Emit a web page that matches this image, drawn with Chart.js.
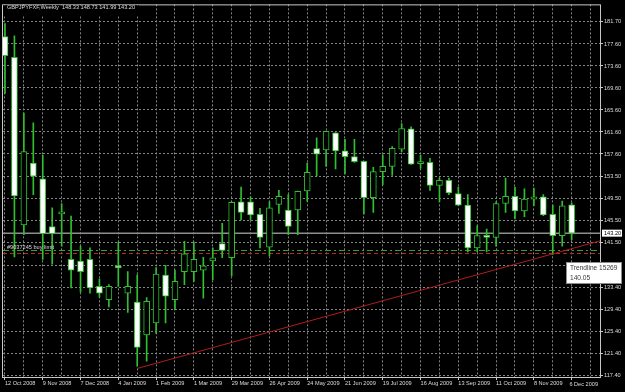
<!DOCTYPE html>
<html>
<head>
<meta charset="utf-8">
<title>GBPJPYFXF, Weekly</title>
<script src="https://cdn.jsdelivr.net/npm/chart.js@4/dist/chart.umd.min.js"></script>
<style>
  html, body { margin: 0; padding: 0; background: #000; overflow: hidden; }
</style>
</head>
<body>
<canvas id="chart" width="625" height="392"></canvas>
<script>
// Weekly GBPJPY candles, 12 Oct 2008 .. 6 Dec 2009 (one entry per week)
const headerText = 'GBPJPYFXF,Weekly  148.33 148.73 141.99 143.20';
const dateLabels = ['12 Oct 2008', '9 Nov 2008', '7 Dec 2008', '4 Jan 2009', '1 Feb 2009', '1 Mar 2009',
  '29 Mar 2009', '26 Apr 2009', '24 May 2009', '21 Jun 2009', '19 Jul 2009', '16 Aug 2009',
  '13 Sep 2009', '11 Oct 2009', '8 Nov 2009', '6 Dec 2009'];

const opens = [178.96, 175.19, 144.72, 155.94, 153.07, 144.41, 146.70, 138.44, 138.14, 138.44,
  133.53, 131.10, 137.00, 132.28, 130.67, 124.69, 126.90, 135.57, 131.10, 136.22,
  136.22, 136.47, 138.14, 141.31, 138.73, 148.89, 148.89, 146.62, 140.65, 148.41,
  147.41, 147.41, 150.87, 158.58, 158.34, 161.44, 158.16, 157.14, 156.25, 149.67,
  154.40, 155.35, 158.45, 162.16, 155.85, 156.07, 151.89, 152.79, 150.39, 148.30,
  140.52, 142.74, 142.44, 148.59, 149.91, 147.23, 149.38, 149.79, 146.62, 142.74, 148.33];
const highs = [181.30, 179.07, 165.03, 163.24, 157.38, 147.82, 148.59, 146.32, 140.83, 140.52,
  134.86, 133.84, 141.60, 136.22, 135.63, 131.51, 136.94, 137.37, 136.47, 141.72,
  141.60, 138.80, 140.52, 145.01, 148.89, 151.58, 149.79, 147.70, 148.89, 150.99,
  150.21, 150.87, 155.94, 160.55, 161.75, 161.50, 160.24, 160.24, 156.30, 155.17,
  157.45, 158.93, 163.11, 162.52, 157.38, 156.79, 153.20, 153.20, 151.58, 150.21,
  144.59, 143.93, 148.89, 153.20, 151.58, 151.28, 151.40, 150.21, 148.30, 149.02, 148.73];
const lows = [168.61, 138.86, 142.93, 150.20, 138.44, 137.55, 140.83, 133.25, 132.46, 132.28,
  131.56, 129.77, 133.53, 128.77, 119.01, 119.92, 124.99, 126.90, 129.30, 133.84,
  134.43, 131.40, 134.68, 138.73, 135.45, 145.61, 145.61, 140.52, 139.04, 146.80,
  142.93, 142.93, 149.02, 153.56, 155.35, 154.87, 153.97, 156.07, 146.69, 146.98,
  152.00, 153.68, 158.04, 155.70, 154.99, 150.99, 148.89, 150.21, 148.18, 139.81,
  139.81, 139.81, 140.83, 146.98, 145.79, 146.21, 148.18, 146.38, 139.34, 140.83, 141.99];
const closes = [175.48, 149.97, 158.04, 153.56, 143.10, 143.10, 146.80, 136.47, 136.22, 133.25,
  132.28, 133.53, 136.90, 133.53, 122.42, 130.79, 135.75, 131.74, 134.43, 139.45,
  138.44, 137.24, 138.73, 140.06, 148.80, 146.98, 146.50, 142.44, 147.82, 149.91,
  144.41, 150.80, 154.27, 157.55, 161.70, 158.16, 157.09, 156.19, 149.67, 154.40,
  155.35, 158.63, 162.21, 155.76, 156.00, 151.89, 152.79, 150.51, 148.30, 140.52,
  142.74, 142.44, 148.59, 149.91, 147.23, 149.38, 149.79, 146.50, 142.74, 148.18, 143.20];

const priceLabels = ['181.70', '177.60', '173.60', '169.60', '165.60', '161.60', '157.60', '153.50',
  '149.50', '145.50', '141.50', '137.40', '133.40', '129.40', '125.40', '121.40', '117.40'];

const bidPrice = 143.20;
const orderPrice = 140.05;
const stopPrice = 139.50;
const orderText = '#9037245 buy limit';
const trendX = [14, 63];
const trendY = [118.6, 141.8];
const trendTip = ['Trendline 15269', '140.05'];

const X_MIN = -0.21;
const X_MAX = 63.0;
const Y_MIN = 117.05;
const Y_MAX = 184.8;

const GREEN = '#2fbf2f';
const GRID = '#858585';
const TEXT = '#dcdcdc';
const SMALL_FONT = { family: '"Liberation Sans", Arial, sans-serif', size: 5.6 };

const bodies = opens.map((o, i) => ({ x: i, y: [o, closes[i]] }));
const wicks = lows.map((l, i) => ({ x: i, y: [l, highs[i]] }));
const bodyFill = opens.map((o, i) => (closes[i] >= o ? '#000000' : '#ffffff'));

function hLine(price) {
  return [{ x: X_MIN, y: price }, { x: X_MAX, y: price }];
}

const overlayPlugin = {
  id: 'overlay',
  beforeDraw(chart) {
    const { ctx, width, height } = chart;
    ctx.save();
    ctx.fillStyle = '#000';
    ctx.fillRect(0, 0, width, height);
    ctx.restore();
  },
  afterDraw(chart) {
    const { ctx, chartArea: a, scales } = chart;
    const fontStr = (size) => size + 'px "Liberation Sans", Arial, sans-serif';
    ctx.save();

    // frame around the plot
    ctx.strokeStyle = '#c8c8c8';
    ctx.lineWidth = 1;
    ctx.strokeRect(a.left - 0.5, a.top + 0.5, a.right - a.left + 1, a.bottom - a.top);

    // symbol header sits on its own black strip
    ctx.font = fontStr(5.6);
    ctx.textBaseline = 'middle';
    ctx.textAlign = 'left';
    ctx.fillStyle = '#000';
    ctx.fillRect(a.left, a.top + 1, ctx.measureText(headerText).width + 8, 11);
    ctx.fillStyle = TEXT;
    ctx.fillText(headerText, 7, 7);

    const yOrder = scales.y.getPixelForValue(orderPrice);
    ctx.fillText(orderText, 7, yOrder - 3.5);

    // last date label is pushed inside the plot, as the terminal does
    ctx.textAlign = 'right';
    ctx.fillText(dateLabels[dateLabels.length - 1], a.right - 2, a.bottom + 7.5);

    // current bid box on the price axis
    const yBid = scales.y.getPixelForValue(bidPrice);
    ctx.fillStyle = '#ffffff';
    ctx.fillRect(a.right + 2, yBid - 3.5, 20, 7);
    ctx.fillStyle = '#000';
    ctx.textAlign = 'left';
    ctx.fillText(bidPrice.toFixed(2), a.right + 4, yBid);

    // trendline hint box
    const bx = 566.5, by = 262.5, bw = 55, bh = 21;
    ctx.fillStyle = '#ffffff';
    ctx.fillRect(bx, by, bw, bh);
    ctx.strokeStyle = '#8c8c8c';
    ctx.strokeRect(bx, by, bw, bh);
    ctx.fillStyle = '#3a3a3a';
    ctx.font = fontStr(6.6);
    ctx.fillText(trendTip[0], bx + 3.5, by + 6);
    ctx.fillText(trendTip[1], bx + 3.5, by + 15.5);
    ctx.restore();
  },
};

new Chart(document.getElementById('chart'), {
  type: 'bar',
  data: {
    datasets: [
      {
        type: 'line',
        data: trendX.map((x, i) => ({ x: x, y: trendY[i] })),
        borderColor: '#b01c1c',
        borderWidth: 1,
        pointRadius: 0,
        order: 0,
      },
      {
        data: bodies,
        backgroundColor: bodyFill,
        borderColor: GREEN,
        borderWidth: 1,
        borderSkipped: false,
        barThickness: 6,
        minBarLength: 2,
        grouped: false,
        order: 1,
      },
      {
        data: wicks,
        backgroundColor: GREEN,
        borderWidth: 0,
        barThickness: 1,
        grouped: false,
        order: 2,
      },
      {
        type: 'line',
        data: hLine(bidPrice),
        borderColor: '#8e8e8e',
        borderWidth: 1.5,
        pointRadius: 0,
        order: 3,
      },
      {
        type: 'line',
        data: hLine(orderPrice),
        borderColor: '#2ea82e',
        borderWidth: 1,
        borderDash: [6, 3, 2, 3],
        pointRadius: 0,
        order: 3,
      },
      {
        type: 'line',
        data: hLine(stopPrice),
        borderColor: '#c82222',
        borderWidth: 1,
        borderDash: [4, 3],
        pointRadius: 0,
        order: 3,
      },
    ],
  },
  options: {
    responsive: false,
    animation: false,
    events: [],
    layout: { padding: { left: 3, top: 1, right: 0, bottom: 0 } },
    plugins: { legend: { display: false }, tooltip: { enabled: false } },
    scales: {
      x: {
        type: 'linear',
        min: X_MIN,
        max: X_MAX,
        offset: false,
        afterBuildTicks: (scale) => {
          const t = [];
          for (let i = 0; i <= 62; i += 2) t.push({ value: i });
          scale.ticks = t;
        },
        afterFit: (scale) => { scale.height = 15; },
        grid: {
          offset: false,
          color: GRID,
          tickLength: 3,
          tickColor: (ctx) => (ctx.tick && ctx.tick.value % 4 === 0 ? '#c8c8c8' : 'rgba(0,0,0,0)'),
        },
        border: { display: false, dash: [2, 2] },
        ticks: {
          autoSkip: false,
          maxRotation: 0,
          align: 'start',
          padding: 0,
          color: TEXT,
          font: SMALL_FONT,
          callback: (v) => (v % 4 === 0 && v / 4 < dateLabels.length - 1 ? dateLabels[v / 4] : ''),
        },
      },
      y: {
        type: 'linear',
        position: 'right',
        min: Y_MIN,
        max: Y_MAX,
        afterBuildTicks: (scale) => {
          scale.ticks = priceLabels.map((p) => ({ value: parseFloat(p) }));
        },
        afterFit: (scale) => { scale.width = 25; },
        grid: { color: GRID, tickLength: 3, tickColor: '#c8c8c8' },
        border: { display: false, dash: [2, 2] },
        ticks: {
          padding: 1,
          color: TEXT,
          font: SMALL_FONT,
          callback: (v) => v.toFixed(2),
        },
      },
    },
  },
  plugins: [overlayPlugin],
});
</script>
</body>
</html>
